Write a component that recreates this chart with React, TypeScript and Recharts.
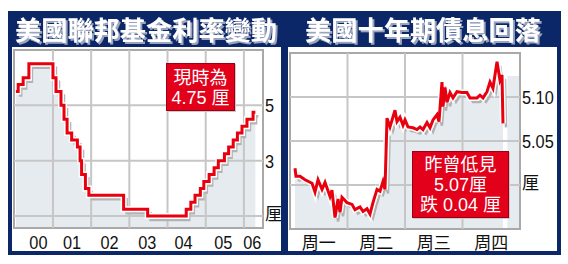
import React from "react";
import {
  ComposedChart,
  Area,
  Line,
  XAxis,
  YAxis,
  ReferenceLine,
  ReferenceArea,
} from "recharts";

// 聯邦基金利率: 議息日期 (年份小數) 與利率 (%)
const fedDates = [
  2000.03, 2000.09, 2000.22, 2000.37, 2001.0, 2001.08, 2001.21, 2001.29,
  2001.37, 2001.49, 2001.64, 2001.71, 2001.75, 2001.85, 2001.94, 2002.85,
  2003.48, 2004.49, 2004.61, 2004.72, 2004.86, 2004.95, 2005.09, 2005.22,
  2005.33, 2005.49, 2005.6, 2005.72, 2005.83, 2005.95, 2006.08, 2006.24,
  2006.3,
];
const fedRates = [
  5.5, 5.75, 6.0, 6.5, 6.0, 5.5, 5.0, 4.5, 4.0, 3.75, 3.5, 3.0, 2.5, 2.0,
  1.75, 1.25, 1.0, 1.25, 1.5, 1.75, 2.0, 2.25, 2.5, 2.75, 3.0, 3.25, 3.5,
  3.75, 4.0, 4.25, 4.5, 4.75, 4.75,
];
const yearTicks = [2000.62, 2001.5, 2002.48, 2003.47, 2004.42, 2005.46, 2006.22];
const yearLabels = ["00", "01", "02", "03", "04", "05", "06"];
const yearLines = [2001, 2002, 2003, 2004, 2005, 2006];
const rateTicks = [1, 3, 5];
const rateLabels = ["厘", "3", "5"];
const rateDomain = [0.57, 7];
const yearDomain = [1999.98, 2006.5];

// 十年期債息: 交易日 (周一 = 0) 與孳息 (%)
const yieldDays = [
  0.087, 0.104, 0.174, 0.261, 0.383, 0.435, 0.487, 0.557, 0.609, 0.696,
  0.73, 0.783, 0.835, 0.87, 0.904, 0.991, 1.078, 1.13, 1.217, 1.27, 1.339,
  1.391, 1.443, 1.513, 1.565, 1.617, 1.652, 1.687, 1.739, 1.826, 1.861,
  1.913, 1.965, 2.0, 2.052, 2.139, 2.209, 2.261, 2.313, 2.383, 2.435, 2.487,
  2.557, 2.591, 2.643, 2.661, 2.696, 2.73, 2.783, 2.835, 2.904, 2.991,
  3.078, 3.13, 3.252, 3.304, 3.357, 3.426, 3.478, 3.53, 3.6, 3.652, 3.687,
  3.704,
];
const yieldValues = [
  5.019, 5.01, 5.01, 5.006, 5.002, 4.992, 5.006, 4.995, 5.003, 4.987, 4.994,
  4.963, 4.984, 4.969, 4.986, 4.98, 4.978, 4.972, 4.975, 4.97, 4.973, 4.967,
  4.98, 4.995, 4.993, 5.004, 4.995, 5.076, 5.066, 5.085, 5.072, 5.077,
  5.068, 5.074, 5.066, 5.065, 5.063, 5.066, 5.063, 5.071, 5.065, 5.074,
  5.08, 5.072, 5.117, 5.089, 5.111, 5.094, 5.105, 5.099, 5.106, 5.105,
  5.105, 5.099, 5.099, 5.102, 5.099, 5.106, 5.117, 5.11, 5.14, 5.119, 5.125,
  5.07,
];
const dayTicks = [0.5, 1.5, 2.5, 3.5];
const dayLabels = ["周一", "周二", "周三", "周四"];
const dayLines = [1, 2, 3];
const yieldTicks = [5.0, 5.05, 5.1];
const yieldLabels = ["厘", "5.05", "5.10"];
const yieldDomain = [4.95, 5.15];
const dayDomain = [0, 4];
const tailStart = 3.78;
const tailTop = 5.124;

const fedData = fedDates.map((year, i) => ({ year, rate: fedRates[i] }));
const yieldData = yieldDays.map((day, i) => ({ day, value: yieldValues[i] }));

const NAVY = "#0c2768";
const RED = "#e8000f";
const FILL = "#e6ebf0";
const GRID = "#c6c6c6";
const FRAME = "#a9a9a9";
const SHADOW = "#b3b3b3";
const NUM_FONT = "'Liberation Sans', Arial, sans-serif";
const CJK_FONT = "'Noto Sans CJK TC', 'Noto Sans CJK SC', sans-serif";
const NARROW = 0.86;

// 數字刻度字型較窄, 以水平縮放處理; "厘" 等中文字維持原比例
function AxisText(props: any) {
  const { x, y, text, anchor, dy } = props;
  const cjk = /[^\x00-\x7f]/.test(text);
  return (
    <text
      transform={`translate(${x},${y}) scale(${cjk ? 1 : NARROW},1)`}
      x={0}
      y={0}
      dy={dy}
      textAnchor={anchor}
      fill="#111"
      fontSize={cjk ? 17 : 19}
      fontFamily={cjk ? CJK_FONT : NUM_FONT}
    >
      {text}
    </text>
  );
}

function ShadowFilter({ id }: { id: string }) {
  return (
    <defs>
      <filter id={id} x="-10%" y="-10%" width="120%" height="120%">
        <feOffset dx="3" dy="4" />
      </filter>
    </defs>
  );
}

function FedChart() {
  const label = (v: number) => rateLabels[rateTicks.indexOf(v)] ?? "";
  const yearLabel = (v: number) => yearLabels[yearTicks.indexOf(v)] ?? "";
  return (
    <ComposedChart
      width={269}
      height={210}
      data={fedData}
      margin={{ top: 3, right: 0, bottom: 0, left: 2 }}
    >
      <ShadowFilter id="fedShadow" />
      <XAxis
        dataKey="year"
        type="number"
        domain={yearDomain}
        ticks={yearTicks}
        axisLine={false}
        tickLine={false}
        tickSize={0}
        tickMargin={7}
        height={29}
        interval={0}
        tick={(p: any) => (
          <AxisText x={p.x} y={p.y} dy={14} anchor="middle" text={yearLabel(p.payload.value)} />
        )}
      />
      <YAxis
        orientation="right"
        type="number"
        domain={rateDomain}
        ticks={rateTicks}
        axisLine={false}
        tickLine={false}
        tickSize={0}
        tickMargin={2}
        width={18}
        interval={0}
        tick={(p: any) => (
          <AxisText
            x={p.x}
            y={p.y}
            dy={p.payload.value === 1 ? 4 : 7}
            anchor="start"
            text={label(p.payload.value)}
          />
        )}
      />
      <Area
        type="stepAfter"
        dataKey="rate"
        stroke="none"
        fill={FILL}
        fillOpacity={1}
        baseValue={rateDomain[0]}
        isAnimationActive={false}
      />
      {rateTicks.map((v) => (
        <ReferenceLine key={"h" + v} y={v} stroke={GRID} strokeWidth={2} />
      ))}
      {yearLines.map((v) => (
        <ReferenceLine key={"v" + v} x={v} stroke={GRID} strokeWidth={2} />
      ))}
      <ReferenceArea
        x1={yearDomain[0]}
        x2={yearDomain[1]}
        y1={rateDomain[0]}
        y2={rateDomain[1]}
        fill="none"
        stroke={FRAME}
        strokeWidth={2}
      />
      <Line
        type="stepAfter"
        dataKey="rate"
        stroke={SHADOW}
        strokeWidth={2.5}
        dot={false}
        filter="url(#fedShadow)"
        isAnimationActive={false}
      />
      <Line
        type="stepAfter"
        dataKey="rate"
        stroke="#fff"
        strokeWidth={6}
        dot={false}
        isAnimationActive={false}
      />
      <Line
        type="stepAfter"
        dataKey="rate"
        stroke={RED}
        strokeWidth={3}
        strokeLinejoin="miter"
        dot={false}
        isAnimationActive={false}
      />
    </ComposedChart>
  );
}

function YieldChart() {
  const label = (v: number) => yieldLabels[yieldTicks.indexOf(v)] ?? "";
  const dayLabel = (v: number) => dayLabels[dayTicks.indexOf(v)] ?? "";
  return (
    <ComposedChart
      width={269}
      height={210}
      data={yieldData}
      margin={{ top: 6, right: 0, bottom: 0, left: 2 }}
    >
      <ShadowFilter id="yieldShadow" />
      <XAxis
        dataKey="day"
        type="number"
        domain={dayDomain}
        ticks={dayTicks}
        axisLine={false}
        tickLine={false}
        tickSize={0}
        tickMargin={5}
        height={28}
        interval={0}
        tick={(p: any) => (
          <AxisText x={p.x} y={p.y} dy={15} anchor="middle" text={dayLabel(p.payload.value)} />
        )}
      />
      <YAxis
        orientation="right"
        type="number"
        domain={yieldDomain}
        ticks={yieldTicks}
        axisLine={false}
        tickLine={false}
        tickSize={0}
        tickMargin={2}
        width={37}
        interval={0}
        tick={(p: any) => (
          <AxisText
            x={p.x}
            y={p.y}
            dy={p.payload.value === 5.0 ? 4 : 7}
            anchor="start"
            text={label(p.payload.value)}
          />
        )}
      />
      <Area
        type="linear"
        dataKey="value"
        stroke="none"
        fill={FILL}
        fillOpacity={1}
        baseValue={yieldDomain[0]}
        isAnimationActive={false}
      />
      <ReferenceArea
        x1={tailStart}
        x2={dayDomain[1]}
        y1={yieldDomain[0]}
        y2={tailTop}
        fill={FILL}
        fillOpacity={1}
        stroke="none"
      />
      {yieldTicks.map((v) => (
        <ReferenceLine key={"h" + v} y={v} stroke={GRID} strokeWidth={2} />
      ))}
      {dayLines.map((v) => (
        <ReferenceLine key={"v" + v} x={v} stroke={GRID} strokeWidth={2} />
      ))}
      <ReferenceArea
        x1={dayDomain[0]}
        x2={dayDomain[1]}
        y1={yieldDomain[0]}
        y2={yieldDomain[1]}
        fill="none"
        stroke={FRAME}
        strokeWidth={2}
      />
      <Line
        type="linear"
        dataKey="value"
        stroke={SHADOW}
        strokeWidth={2.5}
        dot={false}
        filter="url(#yieldShadow)"
        isAnimationActive={false}
      />
      <Line
        type="linear"
        dataKey="value"
        stroke="#fff"
        strokeWidth={6}
        dot={false}
        isAnimationActive={false}
      />
      <Line
        type="linear"
        dataKey="value"
        stroke={RED}
        strokeWidth={3}
        dot={false}
        isAnimationActive={false}
      />
    </ComposedChart>
  );
}

const boxStyle: React.CSSProperties = {
  position: "absolute",
  background: "#e2001a",
  border: "1px solid #9e0012",
  boxShadow: "1px 1px 0 #c9c9c9",
  color: "#fff",
  fontSize: 18,
  lineHeight: "20px",
  textAlign: "center",
  fontFamily: "'Liberation Sans', " + CJK_FONT,
  boxSizing: "border-box",
};

function Title({ x, width, text }: { x: number; width: number; text: string }) {
  return (
    <text
      x={x}
      y={40}
      fontSize={26}
      fontWeight={700}
      fontFamily={CJK_FONT}
      textLength={width}
      lengthAdjust="spacingAndGlyphs"
      fill="#fff"
      filter="url(#titleShadow)"
    >
      {text}
    </text>
  );
}

export default function App() {
  return (
    <div
      style={{
        position: "absolute",
        left: 0,
        top: 0,
        width: 568,
        height: 264,
        background: "#fff",
        overflow: "hidden",
      }}
    >
      <div style={{ position: "absolute", left: 8, top: 11, width: 276, height: 244, background: NAVY }} />
      <div style={{ position: "absolute", left: 284, top: 11, width: 277, height: 244, background: NAVY }} />
      <div style={{ position: "absolute", left: 12, top: 47, width: 269, height: 204, background: "#fff" }} />
      <div style={{ position: "absolute", left: 288, top: 47, width: 269, height: 204, background: "#fff" }} />

      <svg
        width={568}
        height={50}
        style={{ position: "absolute", left: 0, top: 0 }}
      >
        <defs>
          <filter id="titleShadow" x="-5%" y="-20%" width="110%" height="140%">
            <feDropShadow dx="2" dy="2" stdDeviation="0" floodColor="#9aa4bf" />
          </filter>
        </defs>
        <Title x={15} width={262} text="美國聯邦基金利率變動" />
        <Title x={305} width={236} text="美國十年期債息回落" />
      </svg>

      <div style={{ position: "absolute", left: 12, top: 47 }}>
        <FedChart />
      </div>
      <div style={{ position: "absolute", left: 288, top: 47 }}>
        <YieldChart />
      </div>

      <div style={{ ...boxStyle, left: 166, top: 63, width: 69, height: 48, paddingTop: 4 }}>
        <div>現時為</div>
        <div>4.75 厘</div>
      </div>
      <div style={{ ...boxStyle, left: 412, top: 151, width: 97, height: 67, paddingTop: 3 }}>
        <div>昨曾低見</div>
        <div>5.07厘</div>
        <div>跌 0.04 厘</div>
      </div>
    </div>
  );
}
